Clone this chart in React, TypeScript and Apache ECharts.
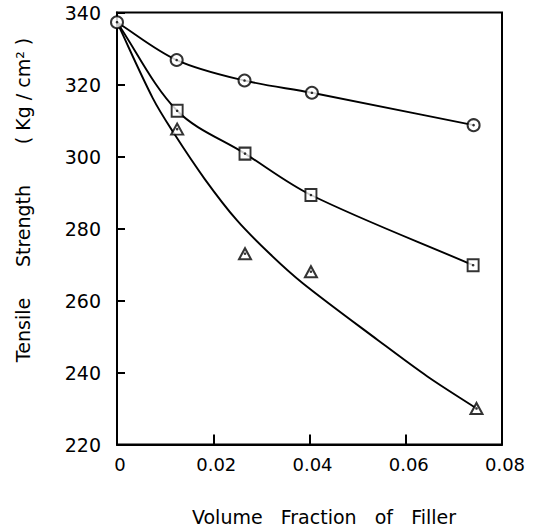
import React, { useEffect, useRef } from "react";
import * as echarts from "echarts";

// Tensile strength (Kg/cm²) against volume fraction of filler
const circleX = [0, 0.0124, 0.0265, 0.0405, 0.0741];
const circleY = [337.3, 326.8, 321.1, 317.7, 308.7];

const squareX = [0, 0.0125, 0.0266, 0.0403, 0.074];
const squareY = [337.3, 312.7, 300.8, 289.3, 269.8];

const triangleX = [0.0125, 0.0266, 0.0403, 0.0747];
const triangleY = [307.6, 273.0, 268.0, 230.0];

// fitted curve drawn through the triangle set
const triangleFitX = [0, 0.0074, 0.0118, 0.0182, 0.0249, 0.0318, 0.0386, 0.0543, 0.0645, 0.0745];
const triangleFitY = [337.3, 316.3, 306.5, 293.8, 282.3, 272.9, 264.8, 248.9, 238.9, 230.2];

const xTicks = [0, 0.02, 0.04, 0.06, 0.08];
const yTicks = [220, 240, 260, 280, 300, 320, 340];

const FONT = "DejaVu Sans";
const INK = "#000";

const zip = (xs: number[], ys: number[]) => xs.map((x, i) => [x, ys[i]]);

// Smooth curve through screen points: chord-length cardinal spline as cubic Béziers
function splinePath(pts: number[][]): string {
  const n = pts.length;
  const dist = (a: number[], b: number[]) => Math.hypot(b[0] - a[0], b[1] - a[1]);
  const d: number[] = [];
  for (let i = 0; i < n - 1; i++) d.push(dist(pts[i], pts[i + 1]) || 1e-6);
  const tan: number[][] = pts.map((p, i) => {
    if (i === 0) return [(pts[1][0] - p[0]) / d[0], (pts[1][1] - p[1]) / d[0]];
    if (i === n - 1) return [(p[0] - pts[i - 1][0]) / d[i - 1], (p[1] - pts[i - 1][1]) / d[i - 1]];
    const s = d[i - 1] + d[i];
    return [(pts[i + 1][0] - pts[i - 1][0]) / s, (pts[i + 1][1] - pts[i - 1][1]) / s];
  });
  let path = `M${pts[0][0]},${pts[0][1]}`;
  for (let i = 0; i < n - 1; i++) {
    const a = pts[i];
    const b = pts[i + 1];
    const k = d[i] / 3;
    const c1 = [a[0] + tan[i][0] * k, a[1] + tan[i][1] * k];
    const c2 = [b[0] - tan[i + 1][0] * k, b[1] - tan[i + 1][1] * k];
    path += ` C${c1[0]},${c1[1]} ${c2[0]},${c2[1]} ${b[0]},${b[1]}`;
  }
  return path;
}

export default function App() {
  const ref = useRef<HTMLDivElement>(null);

  useEffect(() => {
    if (!ref.current) return;
    const chart = echarts.init(ref.current, null, { renderer: "svg" });

    const circles = zip(circleX, circleY);
    const squares = zip(squareX, squareY);
    const triangles = zip(triangleX, triangleY);
    const triangleFit = zip(triangleFitX, triangleFitY);
    const squareMarks = squares.slice(1);
    const allMarks = [...circles, ...squareMarks, ...triangles];

    const curve = (data: number[][]) => ({
      type: "custom",
      data: [data[0]],
      clip: false,
      z: 2,
      renderItem: (params: any, api: any) => {
        const pts = data.map((p) => api.coord(p));
        return {
          type: "path",
          shape: { pathData: splinePath(pts) },
          style: { stroke: INK, lineWidth: 1.9, fill: "none" },
        };
      },
    });

    const marks = (data: number[][], symbol: string, size: number | number[]) => ({
      type: "scatter",
      data,
      symbol,
      symbolSize: size,
      itemStyle: { color: "#fff", borderColor: INK, borderWidth: 2 },
      z: 3,
    });

    const axisText = { color: INK, fontFamily: FONT, fontSize: 18 };

    const titleText = (text: string, x: number, y: number, rotation = 0) => ({
      type: "text",
      x,
      y,
      rotation,
      style: {
        text,
        fontFamily: FONT,
        fontSize: 19,
        fill: INK,
        align: "center",
        verticalAlign: "middle",
      },
    });

    chart.setOption({
      animation: false,
      backgroundColor: "#fff",
      grid: {
        left: 117,
        top: 12.5,
        width: 385,
        height: 432,
        show: true,
        borderColor: INK,
        borderWidth: 2,
        backgroundColor: "transparent",
      },
      xAxis: {
        type: "value",
        min: xTicks[0],
        max: xTicks[xTicks.length - 1],
        interval: 0.02,
        axisLine: { show: true, lineStyle: { color: INK, width: 2 } },
        axisTick: { show: true, inside: true, length: 10, lineStyle: { color: INK, width: 2 } },
        splitLine: { show: false },
        axisLabel: {
          ...axisText,
          margin: 11,
          padding: [0, 0, 0, 6],
          formatter: (v: number) => (v === 0 ? "0" : v.toFixed(2)),
        },
      },
      yAxis: {
        type: "value",
        min: yTicks[0],
        max: yTicks[yTicks.length - 1],
        interval: 20,
        axisLine: { show: true, lineStyle: { color: INK, width: 2 } },
        axisTick: { show: true, inside: true, length: 8, lineStyle: { color: INK, width: 2 } },
        splitLine: { show: false },
        axisLabel: { ...axisText, fontSize: 19, margin: 16 },
      },
      graphic: [
        titleText("Tensile", 23, 330, Math.PI / 2),
        titleText("Strength", 23, 226, Math.PI / 2),
        titleText("( Kg / cm² )", 23, 91, Math.PI / 2),
        titleText("Volume   Fraction   of   Filler", 324, 517),
      ],
      series: [
        curve(circles),
        curve(squares),
        curve(triangleFit),
        marks(circles, "circle", 12),
        marks(squareMarks, "rect", [11, 12]),
        marks(triangles, "triangle", [12, 11]),
        {
          type: "scatter",
          data: allMarks,
          symbol: "circle",
          symbolSize: 2.6,
          itemStyle: { color: INK },
          z: 4,
        },
      ],
    });

    return () => chart.dispose();
  }, []);

  return (
    <div
      ref={ref}
      style={{ position: "fixed", left: 0, top: 0, width: 535, height: 528, background: "#fff" }}
    />
  );
}
